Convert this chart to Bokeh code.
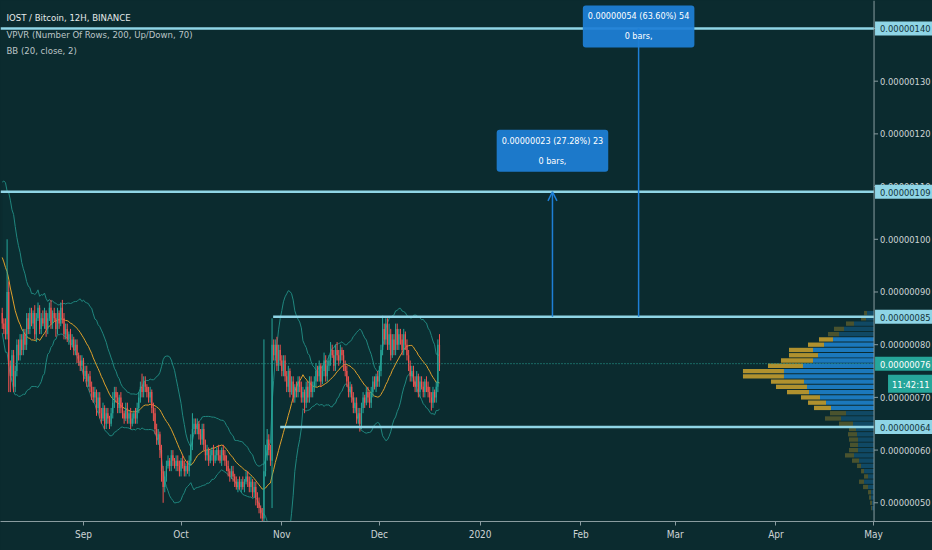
import pandas as pd
from bokeh.plotting import figure
from bokeh.models import (ColumnDataSource, Range1d, FixedTicker, CustomJSTickFormatter, Label,
                          Arrow, OpenHead, GlobalInlineStyleSheet)
from bokeh.core.properties import value
from bokeh.embed import file_html
from bokeh.resources import INLINE

# ---------------- data ----------------
chart_title = "IOST / Bitcoin, 12H, BINANCE"
study_titles = ["VPVR (Number Of Rows, 200, Up/Down, 70)", "BB (20, close, 2)"]

first_bar = "2019-08-07 00:00"      # 12H candles
prior_closes = [100, 103, 106, 104, 108, 105, 102, 104, 100, 97, 94, 96, 92, 90, 93, 89, 88, 90, 86]

closes = [
    84, 83, 82, 90, 76, 74, 78, 72, 75, 80, 78, 81, 79, 82, 80, 85, 83, 86,
    84, 86, 82, 85, 87, 83, 85, 84, 86, 83, 85, 87, 84, 86, 85, 83, 86, 84, 87, 85, 82,
    83, 81, 82, 80, 81, 79, 80, 78, 77,
    76, 77, 74, 75, 73, 74, 72, 71,
    70, 71, 68, 70, 67,
    66, 68, 65, 67, 66, 65, 67, 69, 71, 70, 68, 70, 68,
    67, 66, 68, 66, 67, 65, 66, 67, 66, 68,
    70, 72, 71, 73, 72, 71,
    70, 71, 68, 67,
    64, 62, 63, 60,
    56, 53, 55,
    57, 58, 57, 59, 58, 57, 58, 57, 56, 58, 57,
    56, 57, 56, 58,
    61, 64, 65,
    64, 65, 63, 62, 64,
    61, 59, 60, 58,
    59, 60, 58, 59, 60, 59, 58, 60, 59, 58,
    57, 56, 55, 56, 55,
    54, 53, 54, 53, 54, 53, 54, 55, 54,
    53, 54, 52, 53, 51,
    50, 49, 48, 47,
    56,
    59, 62, 60, 58,
    80,
    78, 80, 76, 79, 77, 75, 77,
    74, 72, 75, 71, 73, 70, 72, 71, 73, 72,
    70, 71, 69, 72, 70, 73, 71, 72,
    73, 75, 74, 76, 73, 75, 77, 74, 76,
    77, 79, 78, 76, 79, 78, 77, 79, 78, 76,
    75, 73, 71, 72, 70, 68, 69, 66, 67, 65,
    68, 70, 69, 71, 70, 69,
    71, 73, 72, 74, 73, 75,
    79, 83, 81, 84,
    80, 82, 78, 81, 79, 83, 80, 82,
    81, 79, 82, 80, 78,
    76, 74, 75, 73,
    72, 74, 71, 73, 72, 71, 73, 72,
    71, 70, 69, 71, 70, 72,
    80, 76,
]
wick_up = [
    1, 1, 2, 10, 2, 1, 1, 1, 1, 1, 1, 1, 1, 1, 1, 1, 1, 1,
    1, 0.5, 1.5, 1, 1, 0.5, 1, 1.5, 1, 0.5, 1, 1, 1.5, 0.5, 1, 1, 1, 0.5, 1, 1.5, 1,
    1, 1, 0.5, 1, 1, 0.5, 1, 1, 0.5,
    1, 1, 0.5, 1, 1, 0.5, 1, 1,
    1, 1, 0.5, 1, 1,
    1, 1, 0.5, 1, 1, 0.5, 1, 2, 1, 1, 1, 0.5, 1,
    1, 0.5, 1, 1, 0.5, 1, 1, 0.5, 1, 1,
    1, 1, 2.5, 1, 1, 0.5,
    1, 1, 0.5, 1,
    1, 1, 1, 0.5,
    1, 1, 1,
    1, 1, 0.5, 1, 1, 0.5, 1, 1, 1, 0.5, 1,
    1, 0.5, 1, 1,
    2, 3, 1,
    1, 1, 0.5, 1, 1,
    1, 1, 1, 0.5,
    1, 0.5, 1, 1, 0.5, 1, 1, 0.5, 1, 1,
    1, 1, 0.5, 1, 1,
    0.5, 1, 0.5, 1, 0.5, 1, 0.5, 1, 1,
    1, 1, 0.5, 1, 1,
    1, 1, 0.5, 1,
    25,
    2, 2, 1, 1,
    5,
    1, 1, 1.5, 1, 1, 1, 1,
    1, 1, 1, 0.5, 1, 1, 0.5, 1, 1, 1,
    1, 1, 0.5, 1, 1, 1, 1, 1,
    1, 1.5, 1, 1, 0.5, 1, 1.5, 1, 1,
    1, 1.5, 1, 1, 1, 1.5, 1, 1, 0.5, 1,
    1, 1, 1, 1, 0.5, 1, 1, 1, 1, 1,
    1, 1, 0.5, 1, 1, 1,
    1, 1, 1, 0.5, 1, 1,
    1, 2.5, 1, 1,
    1, 2, 1, 1, 1, 1, 1, 1,
    1, 1, 1, 0.5, 1,
    1, 1, 1, 1,
    1, 1, 0.5, 1, 1, 1, 0.5, 1,
    1, 1, 1, 1, 0.5, 1,
    1, 2,
]
wick_dn = [
    1, 1, 1, 1, 5, 3, 1, 1, 1, 1, 1, 1, 1, 1, 1, 1, 1, 1,
    0.5, 1, 1, 1.5, 0.5, 1, 1, 0.5, 1, 1.5, 1, 0.5, 1, 1, 0.5, 1.5, 1, 1, 0.5, 1, 1,
    1, 0.5, 1, 1, 0.5, 1, 1, 1.5, 1,
    1, 1, 1, 0.5, 1, 1, 1, 1.5,
    1, 1, 1.5, 1, 1,
    1, 0.5, 1, 1, 1, 1, 0.5, 1, 1, 1, 1, 1, 1,
    1, 1, 0.5, 1, 1, 1, 0.5, 1, 1, 1,
    1, 1, 1, 1, 1, 1,
    1, 1, 1, 1.5,
    1, 1, 1, 1.5,
    2, 3, 1,
    1, 0.5, 1, 1, 1, 0.5, 1, 1, 1, 1, 0.5,
    1, 1, 0.5, 1,
    1, 1, 1,
    1, 1, 1, 1, 1,
    1, 1, 1, 1,
    0.5, 1, 1, 0.5, 1, 1, 0.5, 1, 1, 1,
    1, 1, 1, 0.5, 1,
    1, 0.5, 1, 0.5, 1, 0.5, 1, 0.5, 1,
    1, 1, 1, 1, 1.5,
    1, 1, 1, 0.5,
    1,
    1, 1, 1, 1,
    9,
    1, 1, 1, 1, 1, 1, 1,
    1, 1, 1, 1, 0.5, 1, 1, 1, 1, 1,
    1, 1, 2, 1, 1, 1, 1, 1,
    1, 1, 1, 1, 1, 0.5, 1, 1, 1,
    1, 1, 0.5, 1, 1, 1, 1, 0.5, 1, 1,
    1, 1, 1, 1, 1, 1, 1, 1, 1, 1.5,
    1, 1, 1, 0.5, 1, 1,
    1, 1, 0.5, 1, 1, 1,
    1, 1, 1, 1,
    1, 1, 1, 0.5, 1, 1, 1, 1,
    1, 1, 1, 1, 1,
    1, 1, 1, 1,
    1, 1, 1, 1, 0.5, 1, 1, 1,
    1, 1, 1.5, 1, 1, 1,
    1, 1,
]

# price scale (sats) and drawn levels
price_ticks = [50, 60, 70, 80, 90, 100, 110, 120, 130, 140]
full_levels = [140, 109]
range_top, range_top_start = 85.3, "2019-10-29 08:00"
range_bot, range_bot_start = 64.4, "2019-10-31 12:00"
level_badges = [(140, "0.00000140"), (109, "0.00000109"), (85.3, "0.00000085"), (64.4, "0.00000064")]
last_price, last_price_text, countdown = 76.4, "0.00000076", "11:42:11"

# measurement arrows
measure_dates = ["2020-01-23 06:00", "2020-02-18 18:00"]
measure_from = [85.3, 85.3]
measure_to = [109, 140]
measure_texts = ["0.00000023 (27.28%) 23\n0 bars,", "0.00000054 (63.60%) 54\n0 bars,"]

# time axis
month_starts = ["2019-09-01", "2019-10-01", "2019-11-01", "2019-12-01", "2020-01-01",
                "2020-02-01", "2020-03-01", "2020-04-01", "2020-05-01"]
month_labels = ["Sep", "Oct", "Nov", "Dec", "2020", "Feb", "Mar", "Apr", "May"]
price_axis_date = "2020-05-01 04:00"

# volume profile (rows of 1 sat; arbitrary volume units)
vp_price = list(range(86, 48, -1))
vp_up = [7, 8, 20, 30, 35, 41, 50, 61, 56, 61, 71, 90, 90, 70, 67, 65, 54, 48, 43, 28, 33, 21,
         18, 17, 16, 16, 16, 20, 15, 13, 10, 6, 10, 6, 3, 3, 2, 2]
vp_down = [3, 5, 8, 10, 11, 14, 16, 24, 29, 32, 35, 41, 41, 33, 31, 22, 19, 18, 17, 16, 16, 14,
           7, 9, 9, 8, 9, 9, 7, 4, 3, 4, 5, 5, 3, 2, 2, 1]
value_area = (68, 81)
vp_full_scale = 873          # volume units spanning the whole pane up to the price axis

# ---------------- styling ----------------
BG = "#0b2b2f"
UP_C, DN_C = "#26a69a", "#ef5350"
LEVEL_C = "#8fd5e6"
MEASURE_C = "#1e7fd6"
AXIS_C = "#8a9ca0"
TXT_C = "#cdd4d6"
FONT = "DejaVu Sans Condensed"
AX_FS = "9.3px"
W, H = 932, 550


def ms(t):
    return pd.Timestamp(t).value / 1e6


dates = pd.date_range(first_bar, periods=len(closes), freq="12h")
opens = [prior_closes[-1]] + closes[:-1]
highs = [max(o, c) + u for o, c, u in zip(opens, closes, wick_up)]
lows = [min(o, c) - d for o, c, d in zip(opens, closes, wick_dn)]
colors = [UP_C if c >= o else DN_C for o, c in zip(opens, closes)]

series = pd.Series(prior_closes + closes, dtype=float)
n0 = len(prior_closes)
mid = series.rolling(20).mean().values[n0:]
sd = series.rolling(20).std(ddof=0).values[n0:]
upper, lower = mid + 2 * sd, mid - 2 * sd

src = ColumnDataSource(dict(x=dates, o=opens, c=closes, h=highs, l=lows, col=colors,
                            top=[max(o, c) for o, c in zip(opens, closes)],
                            bot=[min(o, c) for o, c in zip(opens, closes)],
                            mid=mid, up=upper, lo=lower))

x_start = pd.Timestamp("2019-08-06 11:15")
x_end = pd.Timestamp("2020-05-19 03:35")
y_lo, y_hi = 46.45, 145.31
axis_x = ms(price_axis_date)
ms_per_px = (ms(x_end) - ms(x_start)) / W

p = figure(width=W, height=H, x_axis_type="datetime",
           x_range=Range1d(x_start, x_end), y_range=Range1d(y_lo, y_hi),
           output_backend="svg", toolbar_location=None, y_axis_location=None,
           background_fill_color=BG, border_fill_color=BG,
           min_border_left=0, min_border_right=0, min_border_top=0, min_border_bottom=29)
p.outline_line_color = None
p.grid.visible = False
p.stylesheets = [GlobalInlineStyleSheet(css=f"html, body {{ background-color: {BG}; }}")]

# volume profile on its own reversed x range (0 at the price axis)
frac = (axis_x - ms(x_start)) / (ms(x_end) - ms(x_start))
p.extra_x_ranges = {"vol": Range1d(vp_full_scale, vp_full_scale - vp_full_scale / frac)}
in_va = [value_area[0] <= v <= value_area[1] for v in vp_price]
vp_src = ColumnDataSource(dict(y=vp_price, up=vp_up,
                               tot=[u + d for u, d in zip(vp_up, vp_down)],
                               a=[0.72 if f else 0.28 for f in in_va]))
p.hbar(y="y", left="up", right=0, height=0.82, source=vp_src, x_range_name="vol",
       fill_color="#2196f3", fill_alpha="a", line_color=None)
p.hbar(y="y", left="tot", right="up", height=0.82, source=vp_src, x_range_name="vol",
       fill_color="#f0b92e", fill_alpha="a", line_color=None)

# Bollinger bands
p.varea(x="x", y1="lo", y2="up", source=src, fill_color="#26a69a", fill_alpha=0.03)
p.line("x", "up", source=src, line_color="#20877f", line_width=1)
p.line("x", "lo", source=src, line_color="#20877f", line_width=1)
p.line("x", "mid", source=src, line_color="#e0a12c", line_width=1)

# candles
p.segment(x0="x", y0="l", x1="x", y1="h", source=src, line_color="col", line_width=1)
p.vbar(x="x", width=12 * 3600 * 1000 * 0.75, top="top", bottom="bot", source=src,
       fill_color="col", line_color=None)

# current price dotted line
p.segment(x0=[x_start], y0=[last_price], x1=[axis_x], y1=[last_price],
          line_color=UP_C, line_dash="1 2", line_width=1)

# drawn levels
p.segment(x0=[x_start] * len(full_levels), y0=full_levels, x1=[axis_x] * len(full_levels),
          y1=full_levels, line_color=LEVEL_C, line_width=2.5)
p.segment(x0=[pd.Timestamp(range_top_start), pd.Timestamp(range_bot_start)],
          y0=[range_top, range_bot], x1=[axis_x, axis_x], y1=[range_top, range_bot],
          line_color=LEVEL_C, line_width=2.5)

# price axis (right)
p.segment(x0=[axis_x], y0=[y_lo], x1=[axis_x], y1=[y_hi], line_color=AXIS_C, line_width=1)
p.segment(x0=[axis_x] * len(price_ticks), y0=price_ticks,
          x1=[axis_x + 4 * ms_per_px] * len(price_ticks), y1=price_ticks,
          line_color=AXIS_C, line_width=1)
p.text(x=[axis_x] * len(price_ticks), y=price_ticks,
       text=[f"{t * 1e-8:.8f}" for t in price_ticks], x_offset=6,
       text_baseline="middle", text_align="left", text_color=TXT_C,
       text_font=value(FONT), text_font_size=AX_FS)

# measurements
for d, y0, y1, txt, off in zip(measure_dates, measure_from, measure_to, measure_texts, [41, 2]):
    p.add_layout(Arrow(end=OpenHead(size=9, line_color=MEASURE_C, line_width=1.5),
                       x_start=ms(d), y_start=y0, x_end=ms(d), y_end=y1,
                       line_color=MEASURE_C, line_width=1.5))
    p.add_layout(Label(x=ms(d), y=y1, y_offset=off, text=txt, text_align="center",
                       text_baseline="middle", text_color="white", text_font=FONT,
                       text_font_size="9px", text_line_height=2.0,
                       background_fill_color=MEASURE_C, background_fill_alpha=0.93,
                       border_radius=3, padding=dict(left=5, right=5, top=6, bottom=6)))

# legend texts
for i, (t, c) in enumerate([(chart_title, "#e6eaea"),
                            (study_titles[0], "#bcc5c7"),
                            (study_titles[1], "#bcc5c7")]):
    p.add_layout(Label(x=ms(x_start), y=y_hi, x_offset=6, y_offset=-17 - 16.5 * i, text=t,
                       text_baseline="middle", text_align="left", text_color=c,
                       text_font=FONT, text_font_size="9.5px"))

# badges on the price axis
for lv, txt in level_badges:
    p.add_layout(Label(x=axis_x, y=lv, x_offset=1, text=txt, text_baseline="middle",
                       text_align="left", text_color="#12343a", text_font=FONT,
                       text_font_size=AX_FS, background_fill_color=LEVEL_C,
                       padding=dict(left=5, right=3, top=4, bottom=3)))
p.add_layout(Label(x=axis_x, y=last_price, x_offset=1, text=last_price_text,
                   text_baseline="middle", text_align="left", text_color="white",
                   text_font=FONT, text_font_size=AX_FS, background_fill_color=UP_C,
                   padding=dict(left=5, right=3, top=4, bottom=3)))
p.add_layout(Label(x=axis_x, y=last_price, x_offset=14, y_offset=-20, text=countdown,
                   text_baseline="middle", text_align="left", text_color="white",
                   text_font=FONT, text_font_size=AX_FS, background_fill_color=UP_C,
                   padding=dict(left=4, right=6, top=4, bottom=3)))

# time axis (bottom)
xax = p.xaxis[0]
xax.ticker = FixedTicker(ticks=[ms(m) for m in month_starts])
xax.formatter = CustomJSTickFormatter(args=dict(t=[ms(m) for m in month_starts], l=month_labels), code="""
let b = 0;
for (let k = 0; k < t.length; k++) { if (Math.abs(t[k] - tick) < Math.abs(t[b] - tick)) b = k; }
return l[b];""")
xax.axis_line_color = AXIS_C
xax.major_tick_line_color = AXIS_C
xax.major_tick_out = 4
xax.major_tick_in = 0
xax.minor_tick_line_color = None
xax.major_label_text_color = TXT_C
xax.major_label_text_font = FONT
xax.major_label_text_font_size = "10px"
xax.major_label_standoff = 3

open("out.html", "w").write(file_html(p, INLINE))
